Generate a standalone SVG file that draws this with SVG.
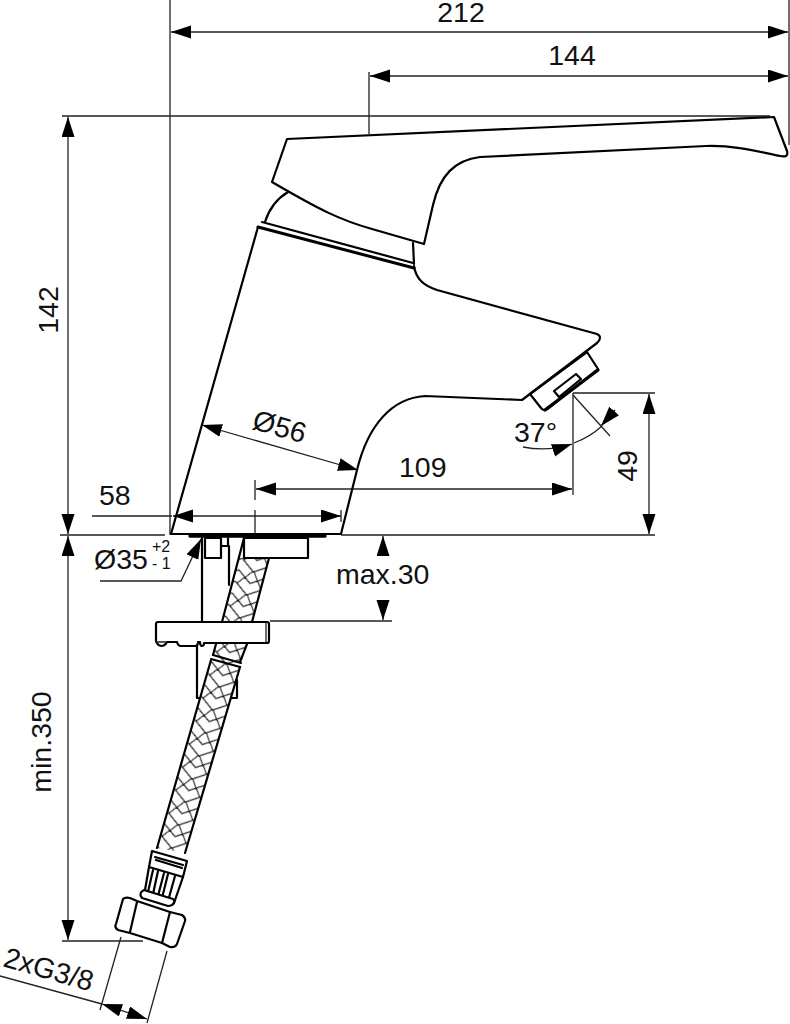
<svg xmlns="http://www.w3.org/2000/svg" width="790" height="1024" viewBox="0 0 790 1024">
<style>
text{font-family:"Liberation Sans",Arial,sans-serif;font-size:28.5px;fill:#111}
.s{font-size:16px}
.d{fill:none;stroke:#222;stroke-width:1.3}
.a{fill:none;stroke:#222;stroke-width:1.3;marker-end:url(#ah)}
.b{fill:none;stroke:#222;stroke-width:1.3;marker-start:url(#ah);marker-end:url(#ah)}
.o{fill:none;stroke:#000;stroke-width:2.2;stroke-linejoin:round;stroke-linecap:round}
.w{fill:#fff;stroke:#000;stroke-width:2.2;stroke-linejoin:round;stroke-linecap:round}
.t{fill:none;stroke:#000;stroke-width:3.4;stroke-linecap:round}
</style>
<defs>
<marker id="ah" markerUnits="userSpaceOnUse" markerWidth="21" markerHeight="14" refX="20" refY="6.5" orient="auto-start-reverse"><path d="M0,0L20,6.5L0,13Z" fill="#000"/></marker>
<pattern id="braid" patternUnits="userSpaceOnUse" width="29" height="24" patternTransform="translate(157.1 845.9) rotate(16.5)">
<rect width="29" height="24" fill="#fff"/>
<path d="M0,0L14.5,10L29,0M0,12L14.5,22L29,12M0,24L14.5,34L29,24M2,13.4L7.7,5.5M27,13.4L21.3,5.5M8,5.7L13.7,-2.2M21,5.7L15.3,-2.2M8,29.7L13.7,21.8M21,29.7L15.3,21.8" fill="none" stroke="#222" stroke-width="1.1"/>
</pattern>
</defs>
<g id="connectors">
<path class="d" d="M170,0V535M789,0V145M369,72V134M62,116H770M60,535H165M341,535H655M62,941H143M573,393V495M573,393H655M255,480V500M255,510V534M270,621H392M92,516H172M341,510V522"/>
<path class="b" d="M171,32H788"/>
<path class="b" d="M370,76H788"/>
<path class="b" d="M68,117V534"/>
<path class="b" d="M68,536V940"/>
<path class="b" d="M173,516H341"/>
<path class="b" d="M202,425L358,470"/>
<path class="b" d="M256,489H572"/>
<path class="b" d="M649,394V534"/>
<path class="a" d="M383,556V536"/>
<path class="a" d="M383,600V620"/>
<path class="a" d="M100,581H181L201,539"/>
<path class="a" d="M523,447Q548,452 572,444"/>
<path class="d" d="M574,443Q590,437 602,426"/>
<path class="a" d="M615,410L601,426"/>
<path class="d" d="M573,395L610,436"/>
<path class="d" d="M121,937L100,1010M167,951L147,1023M0,976L102,1004"/>
<path class="b" d="M102,1004L147,1019"/>
</g>
<g id="mount">
<path class="o" d="M197,645V698H205M237,680V698H231"/>
</g>
<g id="hose-upper">
<path d="M239,558H269L252,622H222Z" fill="url(#braid)"/>
<path class="o" d="M244,538L222,622M269,558L252,622"/>
</g>
<g id="hose-lower">
<path d="M216,644H247L240,667L185,853L157,848L211,659Z" fill="url(#braid)"/>
<path class="o" d="M216,644L213,655M247,644L240,662M211,660L157,848M240,667L185,853"/>
<path class="o" d="M213,655L241,663M211,659L240,667"/>
</g>
<g id="spout-body">
<path class="o" d="M171,534L258,227M171,534H341L357,470C368,425 392,398 425,396L522,400L597,343Q603,337 597,334L437,290C425,286 416,280 414,266"/>
<path class="t" d="M258,227L414,268" style="stroke-width:3"/>
<path class="o" d="M262,222L413,263M413,243L414,264M265,222C270,206 278,198 288,192"/>
<path class="t" d="M190,536H325"/>
</g>
<g id="handle">
<path class="o" d="M287,139L774,117L787,151Q789,158 780,156C760,152 735,145 706,146L480,157C455,160 440,175 433,205L424,244L372,229C340,220 320,210 272,182Z"/>
</g>
<g id="aerator">
<path class="o" d="M530,394L587,352L598,369L549,408Q544,412 541,408Z"/>
<path class="t" d="M545,410L598,370"/>
<path class="o" d="M554,391L576,374L581,379L559,397Z"/>
</g>
<g id="base-parts">
<path class="w" d="M244,538H308V558H244Z"/>
<path class="o" d="M205,538H221V558H205ZM221,538V546H229V585M202,538V622M228,538V546"/>
<path class="w" d="M158,622H267Q269,622 269,624V641Q269,643 267,643H204Q204,646 202,646Q200,646 200,642H198Q198,646 195,646H181Q178,646 177,642H167Q165,646 161,646Q157,645 156,641V624Q156,622 158,622Z"/>
<path class="d" d="M266,623V642M156,642H167"/>
</g>
<g id="connector-nut">
<path class="w" d="M152,851L187,861L183,877L149,867Z"/>
<path class="o" d="M155,857L183,865M156,860L182,868"/>
<path class="o" d="M149,867L145,890M183,877L174,903M153,870L148,892M158,871L153,894M164,873L158,896M168,874L162,898M175,876L168,901"/>
<path class="w" d="M144,890L173,899Q176,902 172,905Q170,906 168,906L142,898Q138,893 144,890Z"/>
<path class="w" d="M123,899Q125,897 130,898L137,901L170,912L182,915Q186,918 185,921L177,944Q175,948 170,947L162,943L130,933L118,930Q114,927 116,924Z"/>
<path class="o" d="M137,902L130,932M170,912L162,943"/>
</g>
<g id="labels">
<text x="461" y="22" text-anchor="middle">212</text>
<text x="572" y="65" text-anchor="middle">144</text>
<text transform="translate(58 310) rotate(-90)" text-anchor="middle">142</text>
<text transform="translate(51 742) rotate(-90)" text-anchor="middle">min.350</text>
<text x="99" y="505">58</text>
<text transform="translate(277 436) rotate(16)" text-anchor="middle">Ø56</text>
<text x="399" y="477">109</text>
<text x="514" y="442">37°</text>
<text transform="translate(637 466) rotate(-90)" text-anchor="middle">49</text>
<text x="94" y="569">Ø35</text>
<text class="s" x="152" y="552">+2</text>
<text class="s" x="152" y="569">- 1</text>
<text x="336" y="584">max.30</text>
<text transform="translate(2 966) rotate(16)">2xG3/8</text>
</g>
</svg>
